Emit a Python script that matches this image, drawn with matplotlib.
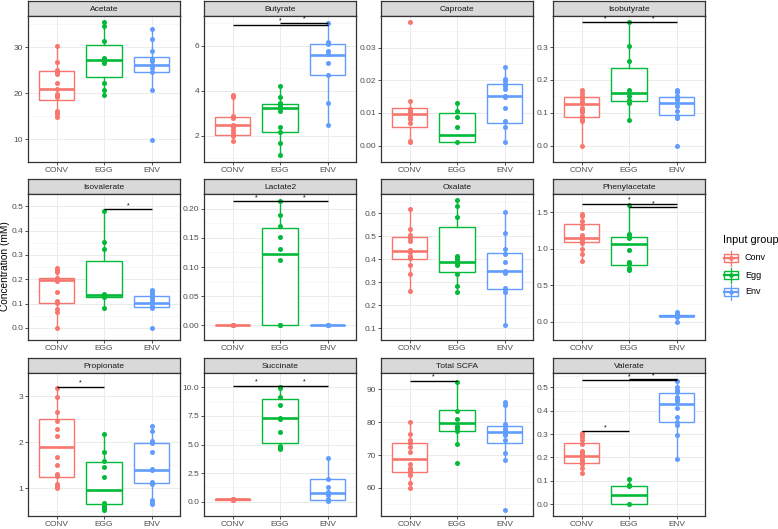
import matplotlib
matplotlib.use("Agg")
import matplotlib.pyplot as plt
from matplotlib.patches import Rectangle

plt.rcParams['font.family'] = ['Liberation Sans', 'DejaVu Sans']

groups = ["CONV", "EGG", "ENV"]
legend_labels = ["Conv", "Egg", "Env"]
group_colors = ["#F8766D", "#00BA38", "#619CFF"]

panel_names = ["Acetate", "Butyrate", "Caproate", "Isobutyrate",
               "Isovalerate", "Lactate2", "Oxalate", "Phenylacetate",
               "Propionate", "Succinate", "Total SCFA", "Valerate"]

# points are (CONV, EGG, ENV); box = whisker low, Q1, median, Q3, whisker high
# sig = (group a, group b, bar height)
acetate_pts = [[30.3, 26.8, 25.0, 24.5, 24.2, 22.3, 21.0, 19.9, 19.6, 19.1, 16.2, 15.7, 15.4, 14.9],
               [35.5, 34.6, 31.4, 27.7, 27.4, 26.9, 26.6, 22.3, 20.6, 19.6],
               [34.0, 31.7, 29.1, 27.4, 26.9, 26.2, 25.4, 24.5, 20.6, 9.7]]
acetate_box = [[14.9, 18.4, 21.0, 24.85, 30.3], [19.6, 23.4, 27.2, 30.4, 35.5], [20.6, 24.6, 26.1, 27.8, 34.0]]
acetate_ticks = ["10", "20", "30"]
acetate_sig = []

butyrate_pts = [[3.81, 3.70, 2.89, 2.79, 2.49, 2.37, 2.25, 2.13, 2.01, 1.75],
                [4.19, 3.73, 3.45, 3.36, 3.29, 3.11, 2.37, 2.15, 1.66, 1.13],
                [6.99, 6.15, 6.07, 5.75, 5.63, 5.23, 4.68, 3.44, 2.46]]
butyrate_box = [[1.75, 2.04, 2.46, 2.84, 3.81], [1.13, 2.18, 3.23, 3.41, 4.19], [2.46, 4.71, 5.57, 6.07, 6.99]]
butyrate_ticks = ["2", "4", "6"]
butyrate_sig = [(0, 2, 6.93), (1, 2, 7.02)]

caproate_pts = [[0.0378, 0.0137, 0.0113, 0.0104, 0.0102, 0.0096, 0.0088, 0.0081, 0.0070, 0.0014, 0.0010],
                [0.0129, 0.0105, 0.0087, 0.0058, 0.0010],
                [0.0240, 0.0205, 0.0198, 0.0190, 0.0181, 0.0172, 0.0153, 0.0148, 0.0114, 0.0074, 0.0058, 0.0010]]
caproate_box = [[0.0010, 0.0056, 0.0097, 0.0114, 0.0137], [0.0010, 0.0010, 0.0034, 0.0099, 0.0129],
                [0.0010, 0.0069, 0.0153, 0.0188, 0.0240]]
caproate_ticks = ["0.00", "0.01", "0.02", "0.03"]
caproate_sig = []

isobutyrate_pts = [[0.168, 0.160, 0.151, 0.144, 0.135, 0.129, 0.115, 0.109, 0.101, 0.090, 0.080, 0.075, 0.0],
                   [0.375, 0.304, 0.259, 0.170, 0.151, 0.139, 0.129, 0.077],
                   [0.168, 0.162, 0.151, 0.144, 0.139, 0.120, 0.104, 0.090, 0.083, 0.0]]
isobutyrate_box = [[0.0, 0.087, 0.127, 0.148, 0.168], [0.077, 0.137, 0.159, 0.237, 0.375],
                   [0.083, 0.094, 0.131, 0.149, 0.168]]
isobutyrate_ticks = ["0.0", "0.1", "0.2", "0.3"]
isobutyrate_sig = [(0, 1, 0.376), (1, 2, 0.376)]

isovalerate_pts = [[0.246, 0.238, 0.230, 0.206, 0.199, 0.191, 0.148, 0.109, 0.103, 0.079, 0.067, 0.0],
                   [0.479, 0.351, 0.323, 0.139, 0.132, 0.126, 0.080],
                   [0.157, 0.148, 0.139, 0.131, 0.121, 0.111, 0.103, 0.091, 0.082, 0.0]]
isovalerate_box = [[0.0, 0.102, 0.197, 0.206, 0.246], [0.080, 0.127, 0.136, 0.276, 0.479],
                   [0.082, 0.085, 0.103, 0.131, 0.157]]
isovalerate_ticks = ["0.0", "0.1", "0.2", "0.3", "0.4", "0.5"]
isovalerate_sig = [(1, 2, 0.488)]

lactate2_pts = [[0.0, 0.0, 0.0, 0.0, 0.0],
                [0.213, 0.189, 0.171, 0.151, 0.131, 0.112, 0.0, 0.0],
                [0.0, 0.0, 0.0, 0.0]]
lactate2_box = [[0.0, 0.0, 0.0, 0.0, 0.0], [0.0, 0.0, 0.122, 0.166, 0.213], [0.0, 0.0, 0.0, 0.0, 0.0]]
lactate2_ticks = ["0.00", "0.05", "0.10", "0.15", "0.20"]
lactate2_sig = [(0, 1, 0.213), (1, 2, 0.213)]

oxalate_pts = [[0.620, 0.533, 0.507, 0.491, 0.481, 0.441, 0.433, 0.414, 0.405, 0.375, 0.338, 0.263],
               [0.656, 0.629, 0.582, 0.413, 0.405, 0.396, 0.386, 0.375, 0.334, 0.284, 0.259],
               [0.603, 0.514, 0.446, 0.423, 0.387, 0.351, 0.340, 0.277, 0.269, 0.259, 0.116]]
oxalate_box = [[0.263, 0.400, 0.435, 0.495, 0.620], [0.259, 0.343, 0.390, 0.539, 0.656],
               [0.116, 0.269, 0.347, 0.427, 0.603]]
oxalate_ticks = ["0.1", "0.2", "0.3", "0.4", "0.5", "0.6"]
oxalate_sig = []

phenylacetate_pts = [[1.476, 1.443, 1.383, 1.331, 1.283, 1.191, 1.163, 1.135, 1.111, 1.083, 0.990, 0.934, 0.826],
                     [1.596, 1.203, 1.183, 1.151, 0.982, 0.822, 0.794, 0.742, 0.714],
                     [0.128, 0.108, 0.092, 0.085, 0.080, 0.075, 0.068, 0.0]]
phenylacetate_box = [[0.826, 1.091, 1.143, 1.339, 1.476], [0.714, 0.782, 1.067, 1.163, 1.596],
                     [0.068, 0.072, 0.080, 0.090, 0.108]]
phenylacetate_ticks = ["0.0", "0.5", "1.0", "1.5"]
phenylacetate_sig = [(0, 2, 1.616), (1, 2, 1.568)]

propionate_pts = [[3.18, 2.97, 2.66, 2.46, 2.28, 2.14, 1.67, 1.50, 1.30, 1.26, 1.09, 1.04, 1.00],
                  [2.17, 1.79, 1.60, 1.46, 1.24, 0.68, 0.65, 0.61, 0.57, 0.53],
                  [2.35, 2.25, 2.03, 1.99, 1.78, 1.42, 1.39, 1.13, 1.10, 0.74, 0.70, 0.66]]
propionate_box = [[1.00, 1.24, 1.90, 2.51, 3.18], [0.53, 0.65, 0.97, 1.56, 2.17], [0.66, 1.12, 1.40, 1.97, 2.35]]
propionate_ticks = ["1", "2", "3"]
propionate_sig = [(0, 1, 3.20)]

succinate_pts = [[0.25, 0.20, 0.18, 0.15],
                 [10.05, 9.92, 9.19, 8.49, 7.36, 7.23, 6.05, 4.84, 4.71, 4.58],
                 [3.83, 1.99, 1.26, 0.86, 0.71, 0.55, 0.25, 0.10]]
succinate_box = [[0.15, 0.17, 0.20, 0.22, 0.25], [4.58, 5.14, 7.30, 8.99, 10.05], [0.10, 0.18, 0.73, 1.99, 3.83]]
succinate_ticks = ["0.0", "2.5", "5.0", "7.5", "10.0"]
succinate_sig = [(0, 1, 10.13), (1, 2, 10.13)]

total_scfa_pts = [[80.2, 76.3, 74.7, 73.6, 72.6, 70.8, 67.2, 66.2, 65.4, 64.7, 64.0, 61.5, 60.0],
                  [92.3, 83.4, 80.9, 78.8, 78.2, 77.2, 73.3, 67.6],
                  [86.3, 85.1, 79.5, 78.8, 78.0, 77.2, 76.5, 76.0, 74.6, 70.6, 68.6, 53.4]]
total_scfa_box = [[60.0, 64.8, 68.9, 73.8, 80.2], [73.3, 77.2, 79.7, 83.6, 92.3], [68.6, 73.6, 76.9, 79.0, 86.3]]
total_scfa_ticks = ["60", "70", "80", "90"]
total_scfa_sig = [(0, 1, 92.7)]

valerate_pts = [[0.306, 0.297, 0.286, 0.273, 0.257, 0.227, 0.218, 0.210, 0.200, 0.191, 0.180, 0.170, 0.156, 0.133],
                [0.110, 0.081, 0.077, 0.0],
                [0.527, 0.499, 0.488, 0.479, 0.459, 0.448, 0.439, 0.410, 0.373, 0.353, 0.337, 0.297, 0.195]]
valerate_box = [[0.133, 0.178, 0.207, 0.260, 0.306], [0.0, 0.0, 0.040, 0.080, 0.110],
                [0.195, 0.350, 0.428, 0.476, 0.527]]
valerate_ticks = ["0.0", "0.1", "0.2", "0.3", "0.4", "0.5"]
valerate_sig = [(0, 2, 0.531), (1, 2, 0.534), (0, 1, 0.313)]

panels = {
    "Acetate": (acetate_pts, acetate_box, acetate_ticks, acetate_sig),
    "Butyrate": (butyrate_pts, butyrate_box, butyrate_ticks, butyrate_sig),
    "Caproate": (caproate_pts, caproate_box, caproate_ticks, caproate_sig),
    "Isobutyrate": (isobutyrate_pts, isobutyrate_box, isobutyrate_ticks, isobutyrate_sig),
    "Isovalerate": (isovalerate_pts, isovalerate_box, isovalerate_ticks, isovalerate_sig),
    "Lactate2": (lactate2_pts, lactate2_box, lactate2_ticks, lactate2_sig),
    "Oxalate": (oxalate_pts, oxalate_box, oxalate_ticks, oxalate_sig),
    "Phenylacetate": (phenylacetate_pts, phenylacetate_box, phenylacetate_ticks, phenylacetate_sig),
    "Propionate": (propionate_pts, propionate_box, propionate_ticks, propionate_sig),
    "Succinate": (succinate_pts, succinate_box, succinate_ticks, succinate_sig),
    "Total SCFA": (total_scfa_pts, total_scfa_box, total_scfa_ticks, total_scfa_sig),
    "Valerate": (valerate_pts, valerate_box, valerate_ticks, valerate_sig),
}

# ---- layout (pixels) ----
W, H = 778, 529
col_left = [28, 204, 381, 553]
panel_w = 152
strip_top = [1, 179, 358]
strip_h = 15
panel_bottom = [162, 340, 516]

fig = plt.figure(figsize=(W / 100, H / 100), dpi=100)


def px_axes(x0, y0, x1, y1):
    return fig.add_axes([x0 / W, 1 - y1 / H, (x1 - x0) / W, (y1 - y0) / H])


for k, name in enumerate(panel_names):
    pts, box, ticks, sig = panels[name]
    r, c = divmod(k, 4)
    x0 = col_left[c]
    top = strip_top[r] + strip_h

    # strip
    sax = px_axes(x0, strip_top[r], x0 + panel_w, top)
    sax.set_facecolor("#D9D9D9")
    sax.set_xticks([])
    sax.set_yticks([])
    for sp in sax.spines.values():
        sp.set_color("#333333")
        sp.set_linewidth(0.9)
    sax.text(0.5, 0.45, name, ha="center", va="center", fontsize=6, color="#1A1A1A",
             transform=sax.transAxes)

    ax = px_axes(x0, top, x0 + panel_w, panel_bottom[r])

    for i in range(3):
        lo, q1, med, q3, hi = box[i]
        stats = [dict(whislo=lo, q1=q1, med=med, q3=q3, whishi=hi, fliers=[])]
        col = group_colors[i]
        ax.bxp(stats, positions=[i + 1], widths=0.75, showcaps=False, showfliers=False,
               patch_artist=True,
               boxprops=dict(facecolor="white", edgecolor=col, linewidth=1.0),
               whiskerprops=dict(color=col, linewidth=1.0),
               medianprops=dict(color=col, linewidth=1.9, solid_capstyle="butt"),
               zorder=2)
        ax.scatter([i + 1] * len(pts[i]), pts[i], s=13, color=col, linewidths=0, zorder=3)

    for a, b, y in sig:
        ax.plot([a + 1, b + 1], [y, y], color="black", lw=1.0, zorder=4, solid_capstyle="butt")
        ax.text((a + b) / 2 + 1, y, "*", ha="center", va="bottom", fontsize=5, color="black", zorder=4)

    vals = [v for g in pts for v in g] + [s[2] for s in sig]
    lo_v, hi_v = min(vals), max(vals)
    pad = (hi_v - lo_v) * 0.05
    ax.set_ylim(lo_v - pad, hi_v + pad)
    ax.set_xlim(0.4, 3.6)

    tick_pos = [float(t) for t in ticks]
    ax.set_yticks(tick_pos)
    ax.set_yticklabels(ticks)
    step = tick_pos[1] - tick_pos[0]
    minors = [tick_pos[0] - step / 2] + [t + step / 2 for t in tick_pos]
    ax.set_yticks(minors, minor=True)
    ax.set_xticks([1, 2, 3])
    ax.set_xticklabels(groups)

    ax.grid(which="major", color="#EBEBEB", lw=0.7, zorder=0)
    ax.grid(which="minor", axis="y", color="#F2F2F2", lw=0.4, zorder=0)
    ax.set_axisbelow(True)
    ax.tick_params(axis="both", which="major", length=2.2, width=0.6, color="#333333",
                   labelsize=6, labelcolor="#4D4D4D", pad=1.2)
    ax.tick_params(axis="y", which="minor", length=0)
    for sp in ax.spines.values():
        sp.set_color("#333333")
        sp.set_linewidth(0.9)

fig.text(5 / W, 1 - 266 / H, "Concentration (mM)", rotation=90, ha="center", va="center",
         fontsize=7.3, color="black")

# ---- legend ----
lax = fig.add_axes([0, 0, 1, 1], facecolor="none")
lax.set_xlim(0, W)
lax.set_ylim(H, 0)
lax.axis("off")
lax.text(723, 240, "Input group", fontsize=7.8, ha="left", va="center", color="black")
key_y = [258, 275, 292]
for i in range(3):
    cy = key_y[i]
    col = group_colors[i]
    lax.plot([731, 731], [cy - 7.5, cy + 7.5], color=col, lw=0.9)
    lax.add_patch(Rectangle((724, cy - 4), 14, 8, facecolor="white", edgecolor=col, lw=1.0))
    lax.plot([724, 738], [cy, cy], color=col, lw=1.6)
    lax.scatter([731], [cy], s=11, color=col, linewidths=0, zorder=5)
    lax.text(745, cy, legend_labels[i], fontsize=6.5, ha="left", va="center", color="black")

fig.savefig("out.png", dpi=100)
